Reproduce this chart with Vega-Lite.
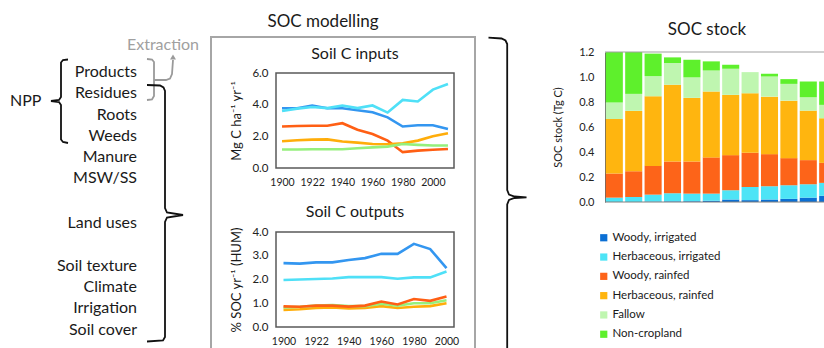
{
"$schema": "https://vega.github.io/schema/vega-lite/v6.json",
"padding": 0,
"spacing": 0,
"config": {"view": {"stroke": null}, "font": "Lato", "axis": {"labelFont": "Lato", "titleFont": "Lato"}, "legend": {"labelFont": "Lato"}, "title": {"font": "Lato"}},
"resolve": {"scale": {"color": "independent"}, "legend": {"color": "independent"}},
"datasets": {
"wordsL": [
{"label":"Products","x":137,"y":72},{"label":"Residues","x":137,"y":93},{"label":"Roots","x":137,"y":115},{"label":"Weeds","x":137,"y":136},{"label":"Manure","x":137,"y":157},{"label":"MSW/SS","x":137,"y":178},{"label":"Land uses","x":137,"y":223},{"label":"Soil texture","x":137,"y":266},{"label":"Climate","x":137,"y":287},{"label":"Irrigation","x":137,"y":308},{"label":"Soil cover","x":137,"y":330}],
"nppL": [{"label":"NPP","x":10,"y":101}],
"extractL": [{"label":"Extraction","x":163,"y":45}],
"blackL": [
{"id":"npp","seq":1,"x":68,"y":59.5},{"id":"npp","seq":2,"x":63,"y":60},{"id":"npp","seq":3,"x":61,"y":62.5},{"id":"npp","seq":4,"x":61,"y":97},{"id":"npp","seq":5,"x":59,"y":100},{"id":"npp","seq":6,"x":51,"y":101},{"id":"npp","seq":7,"x":59,"y":102},{"id":"npp","seq":8,"x":61,"y":105},{"id":"npp","seq":9,"x":61,"y":139.5},{"id":"npp","seq":10,"x":63,"y":142},{"id":"npp","seq":11,"x":68,"y":143},
{"id":"res","seq":1,"x":147,"y":85},{"id":"res","seq":2,"x":160,"y":85.5},{"id":"res","seq":3,"x":163.5,"y":87.5},{"id":"res","seq":4,"x":165,"y":91},{"id":"res","seq":5,"x":165,"y":208},{"id":"res","seq":6,"x":167,"y":212.5},{"id":"res","seq":7,"x":183,"y":215},{"id":"res","seq":8,"x":167,"y":217.5},{"id":"res","seq":9,"x":165,"y":222},{"id":"res","seq":10,"x":165,"y":337},{"id":"res","seq":11,"x":163,"y":340.5},{"id":"res","seq":12,"x":147,"y":341.5}],
"grayL": [
{"id":"gb","seq":1,"x":147,"y":59},{"id":"gb","seq":2,"x":152,"y":59.5},{"id":"gb","seq":3,"x":154,"y":62},{"id":"gb","seq":4,"x":154,"y":96},{"id":"gb","seq":5,"x":152,"y":99.5},{"id":"gb","seq":6,"x":147,"y":100},
{"id":"arr","seq":1,"x":154,"y":80},{"id":"arr","seq":2,"x":166,"y":80},{"id":"arr","seq":3,"x":170,"y":78.5},{"id":"arr","seq":4,"x":172,"y":74},{"id":"arr","seq":5,"x":173,"y":60}],
"arrowHead": [{"x":173,"y":57}],
"boxH": [{"seq":1,"x":-65,"y":348},{"seq":2,"x":-65,"y":37},{"seq":3,"x":199,"y":37},{"seq":4,"x":199,"y":348}],
"bigB": [{"seq":1,"x":9.5,"y":37.7},{"seq":2,"x":22.5,"y":38.5},{"seq":3,"x":26.5,"y":40.5},{"seq":4,"x":28.2,"y":44},{"seq":5,"x":28.2,"y":190},{"seq":6,"x":30,"y":194.5},{"seq":7,"x":35.5,"y":196.5},{"seq":8,"x":47.5,"y":197.3},{"seq":9,"x":35.5,"y":198},{"seq":10,"x":30,"y":200},{"seq":11,"x":28.2,"y":204.5},{"seq":12,"x":28.2,"y":348}],
"inputs": [
{"year":1900,"use":"Woody, irrigated","value":3.77},{"year":1910,"use":"Woody, irrigated","value":3.77},{"year":1922,"use":"Woody, irrigated","value":3.95},{"year":1933,"use":"Woody, irrigated","value":3.77},{"year":1940,"use":"Woody, irrigated","value":3.77},{"year":1950,"use":"Woody, irrigated","value":3.65},{"year":1960,"use":"Woody, irrigated","value":3.52},{"year":1970,"use":"Woody, irrigated","value":3.2},{"year":1980,"use":"Woody, irrigated","value":2.62},{"year":1990,"use":"Woody, irrigated","value":2.7},{"year":2000,"use":"Woody, irrigated","value":2.7},{"year":2008,"use":"Woody, irrigated","value":2.46},
{"year":1900,"use":"Herbaceous, irrigated","value":3.6},{"year":1910,"use":"Herbaceous, irrigated","value":3.75},{"year":1922,"use":"Herbaceous, irrigated","value":3.85},{"year":1933,"use":"Herbaceous, irrigated","value":3.78},{"year":1940,"use":"Herbaceous, irrigated","value":3.95},{"year":1950,"use":"Herbaceous, irrigated","value":3.78},{"year":1960,"use":"Herbaceous, irrigated","value":3.95},{"year":1970,"use":"Herbaceous, irrigated","value":3.5},{"year":1980,"use":"Herbaceous, irrigated","value":4.3},{"year":1990,"use":"Herbaceous, irrigated","value":4.2},{"year":2000,"use":"Herbaceous, irrigated","value":4.95},{"year":2008,"use":"Herbaceous, irrigated","value":5.3},
{"year":1900,"use":"Woody, rainfed","value":2.62},{"year":1910,"use":"Woody, rainfed","value":2.65},{"year":1922,"use":"Woody, rainfed","value":2.67},{"year":1933,"use":"Woody, rainfed","value":2.67},{"year":1940,"use":"Woody, rainfed","value":2.83},{"year":1950,"use":"Woody, rainfed","value":2.42},{"year":1960,"use":"Woody, rainfed","value":2.15},{"year":1970,"use":"Woody, rainfed","value":1.73},{"year":1980,"use":"Woody, rainfed","value":1.0},{"year":1990,"use":"Woody, rainfed","value":1.1},{"year":2000,"use":"Woody, rainfed","value":1.15},{"year":2008,"use":"Woody, rainfed","value":1.2},
{"year":1900,"use":"Herbaceous, rainfed","value":1.69},{"year":1910,"use":"Herbaceous, rainfed","value":1.75},{"year":1922,"use":"Herbaceous, rainfed","value":1.79},{"year":1933,"use":"Herbaceous, rainfed","value":1.81},{"year":1940,"use":"Herbaceous, rainfed","value":1.67},{"year":1950,"use":"Herbaceous, rainfed","value":1.6},{"year":1960,"use":"Herbaceous, rainfed","value":1.52},{"year":1970,"use":"Herbaceous, rainfed","value":1.5},{"year":1980,"use":"Herbaceous, rainfed","value":1.56},{"year":1990,"use":"Herbaceous, rainfed","value":1.73},{"year":2000,"use":"Herbaceous, rainfed","value":2.0},{"year":2008,"use":"Herbaceous, rainfed","value":2.2},
{"year":1900,"use":"Fallow","value":1.17},{"year":1910,"use":"Fallow","value":1.17},{"year":1922,"use":"Fallow","value":1.18},{"year":1933,"use":"Fallow","value":1.18},{"year":1940,"use":"Fallow","value":1.18},{"year":1950,"use":"Fallow","value":1.25},{"year":1960,"use":"Fallow","value":1.3},{"year":1970,"use":"Fallow","value":1.35},{"year":1980,"use":"Fallow","value":1.52},{"year":1990,"use":"Fallow","value":1.46},{"year":2000,"use":"Fallow","value":1.42},{"year":2008,"use":"Fallow","value":1.42}],
"outputs": [
{"year":1900,"use":"Woody, irrigated","value":2.69},{"year":1910,"use":"Woody, irrigated","value":2.67},{"year":1922,"use":"Woody, irrigated","value":2.72},{"year":1933,"use":"Woody, irrigated","value":2.72},{"year":1940,"use":"Woody, irrigated","value":2.82},{"year":1950,"use":"Woody, irrigated","value":2.9},{"year":1960,"use":"Woody, irrigated","value":3.08},{"year":1970,"use":"Woody, irrigated","value":3.08},{"year":1980,"use":"Woody, irrigated","value":3.5},{"year":1990,"use":"Woody, irrigated","value":3.28},{"year":2000,"use":"Woody, irrigated","value":2.48},
{"year":1900,"use":"Herbaceous, irrigated","value":1.98},{"year":1910,"use":"Herbaceous, irrigated","value":2.0},{"year":1922,"use":"Herbaceous, irrigated","value":2.02},{"year":1933,"use":"Herbaceous, irrigated","value":2.04},{"year":1940,"use":"Herbaceous, irrigated","value":2.1},{"year":1950,"use":"Herbaceous, irrigated","value":2.1},{"year":1960,"use":"Herbaceous, irrigated","value":2.1},{"year":1970,"use":"Herbaceous, irrigated","value":2.03},{"year":1980,"use":"Herbaceous, irrigated","value":2.09},{"year":1990,"use":"Herbaceous, irrigated","value":2.09},{"year":2000,"use":"Herbaceous, irrigated","value":2.34},
{"year":1900,"use":"Herbaceous, rainfed","value":0.72},{"year":1910,"use":"Herbaceous, rainfed","value":0.75},{"year":1922,"use":"Herbaceous, rainfed","value":0.8},{"year":1933,"use":"Herbaceous, rainfed","value":0.82},{"year":1940,"use":"Herbaceous, rainfed","value":0.78},{"year":1950,"use":"Herbaceous, rainfed","value":0.8},{"year":1960,"use":"Herbaceous, rainfed","value":0.88},{"year":1970,"use":"Herbaceous, rainfed","value":0.8},{"year":1980,"use":"Herbaceous, rainfed","value":0.85},{"year":1990,"use":"Herbaceous, rainfed","value":0.88},{"year":2000,"use":"Herbaceous, rainfed","value":1.0},
{"year":1900,"use":"Fallow","value":0.82},{"year":1910,"use":"Fallow","value":0.85},{"year":1922,"use":"Fallow","value":0.9},{"year":1933,"use":"Fallow","value":0.92},{"year":1940,"use":"Fallow","value":0.88},{"year":1950,"use":"Fallow","value":0.88},{"year":1960,"use":"Fallow","value":0.98},{"year":1970,"use":"Fallow","value":0.9},{"year":1980,"use":"Fallow","value":1.0},{"year":1990,"use":"Fallow","value":1.0},{"year":2000,"use":"Fallow","value":1.13},
{"year":1900,"use":"Woody, rainfed","value":0.87},{"year":1910,"use":"Woody, rainfed","value":0.85},{"year":1922,"use":"Woody, rainfed","value":0.9},{"year":1933,"use":"Woody, rainfed","value":0.9},{"year":1940,"use":"Woody, rainfed","value":0.86},{"year":1950,"use":"Woody, rainfed","value":0.9},{"year":1960,"use":"Woody, rainfed","value":1.07},{"year":1970,"use":"Woody, rainfed","value":0.95},{"year":1980,"use":"Woody, rainfed","value":1.18},{"year":1990,"use":"Woody, rainfed","value":1.1},{"year":2000,"use":"Woody, rainfed","value":1.28}],
"stock": [
{"year":1900,"use":"Woody, irrigated","k":1,"value":0},{"year":1910,"use":"Woody, irrigated","k":1,"value":0},{"year":1922,"use":"Woody, irrigated","k":1,"value":0.003},{"year":1933,"use":"Woody, irrigated","k":1,"value":0.005},{"year":1940,"use":"Woody, irrigated","k":1,"value":0.006},{"year":1950,"use":"Woody, irrigated","k":1,"value":0.01},{"year":1960,"use":"Woody, irrigated","k":1,"value":0.02},{"year":1970,"use":"Woody, irrigated","k":1,"value":0.015},{"year":1980,"use":"Woody, irrigated","k":1,"value":0.02},{"year":1990,"use":"Woody, irrigated","k":1,"value":0.025},{"year":2000,"use":"Woody, irrigated","k":1,"value":0.035},{"year":2008,"use":"Woody, irrigated","k":1,"value":0.05},
{"year":1900,"use":"Herbaceous, irrigated","k":2,"value":0.035},{"year":1910,"use":"Herbaceous, irrigated","k":2,"value":0.04},{"year":1922,"use":"Herbaceous, irrigated","k":2,"value":0.056},{"year":1933,"use":"Herbaceous, irrigated","k":2,"value":0.065},{"year":1940,"use":"Herbaceous, irrigated","k":2,"value":0.061},{"year":1950,"use":"Herbaceous, irrigated","k":2,"value":0.057},{"year":1960,"use":"Herbaceous, irrigated","k":2,"value":0.074},{"year":1970,"use":"Herbaceous, irrigated","k":2,"value":0.105},{"year":1980,"use":"Herbaceous, irrigated","k":2,"value":0.106},{"year":1990,"use":"Herbaceous, irrigated","k":2,"value":0.109},{"year":2000,"use":"Herbaceous, irrigated","k":2,"value":0.107},{"year":2008,"use":"Herbaceous, irrigated","k":2,"value":0.103},
{"year":1900,"use":"Woody, rainfed","k":3,"value":0.193},{"year":1910,"use":"Woody, rainfed","k":3,"value":0.206},{"year":1922,"use":"Woody, rainfed","k":3,"value":0.23},{"year":1933,"use":"Woody, rainfed","k":3,"value":0.254},{"year":1940,"use":"Woody, rainfed","k":3,"value":0.257},{"year":1950,"use":"Woody, rainfed","k":3,"value":0.29},{"year":1960,"use":"Woody, rainfed","k":3,"value":0.281},{"year":1970,"use":"Woody, rainfed","k":3,"value":0.274},{"year":1980,"use":"Woody, rainfed","k":3,"value":0.257},{"year":1990,"use":"Woody, rainfed","k":3,"value":0.217},{"year":2000,"use":"Woody, rainfed","k":3,"value":0.193},{"year":2008,"use":"Woody, rainfed","k":3,"value":0.16},
{"year":1900,"use":"Herbaceous, rainfed","k":4,"value":0.436},{"year":1910,"use":"Herbaceous, rainfed","k":4,"value":0.483},{"year":1922,"use":"Herbaceous, rainfed","k":4,"value":0.557},{"year":1933,"use":"Herbaceous, rainfed","k":4,"value":0.614},{"year":1940,"use":"Herbaceous, rainfed","k":4,"value":0.509},{"year":1950,"use":"Herbaceous, rainfed","k":4,"value":0.527},{"year":1960,"use":"Herbaceous, rainfed","k":4,"value":0.482},{"year":1970,"use":"Herbaceous, rainfed","k":4,"value":0.476},{"year":1980,"use":"Herbaceous, rainfed","k":4,"value":0.46},{"year":1990,"use":"Herbaceous, rainfed","k":4,"value":0.46},{"year":2000,"use":"Herbaceous, rainfed","k":4,"value":0.396},{"year":2008,"use":"Herbaceous, rainfed","k":4,"value":0.357},
{"year":1900,"use":"Fallow","k":5,"value":0.132},{"year":1910,"use":"Fallow","k":5,"value":0.136},{"year":1922,"use":"Fallow","k":5,"value":0.161},{"year":1933,"use":"Fallow","k":5,"value":0.174},{"year":1940,"use":"Fallow","k":5,"value":0.164},{"year":1950,"use":"Fallow","k":5,"value":0.168},{"year":1960,"use":"Fallow","k":5,"value":0.209},{"year":1970,"use":"Fallow","k":5,"value":0.169},{"year":1980,"use":"Fallow","k":5,"value":0.161},{"year":1990,"use":"Fallow","k":5,"value":0.134},{"year":2000,"use":"Fallow","k":5,"value":0.107},{"year":2008,"use":"Fallow","k":5,"value":0.107},
{"year":1900,"use":"Non-cropland","k":6,"value":0.404},{"year":1910,"use":"Non-cropland","k":6,"value":0.335},{"year":1922,"use":"Non-cropland","k":6,"value":0.18},{"year":1933,"use":"Non-cropland","k":6,"value":0.045},{"year":1940,"use":"Non-cropland","k":6,"value":0.141},{"year":1950,"use":"Non-cropland","k":6,"value":0.073},{"year":1960,"use":"Non-cropland","k":6,"value":0.032},{"year":1970,"use":"Non-cropland","k":6,"value":0},{"year":1980,"use":"Non-cropland","k":6,"value":0.022},{"year":1990,"use":"Non-cropland","k":6,"value":0.038},{"year":2000,"use":"Non-cropland","k":6,"value":0.126},{"year":2008,"use":"Non-cropland","k":6,"value":0.187}]
},
"hconcat": [
{
 "width": 207, "height": 348,
 "layer": [
  {"data": {"name": "grayL"}, "mark": {"type": "line", "stroke": "#9a9a9a", "strokeWidth": 1.8},
   "encoding": {"x": {"field": "x", "type": "quantitative", "scale": {"domain": [0, 207], "nice": false, "zero": false}, "axis": null},
                "y": {"field": "y", "type": "quantitative", "scale": {"domain": [0, 348], "nice": false, "zero": false, "reverse": true}, "axis": null},
                "detail": {"field": "id"}, "order": {"field": "seq"}}},
  {"data": {"name": "arrowHead"}, "mark": {"type": "point", "shape": "triangle-up", "filled": true, "color": "#9a9a9a", "size": 35, "opacity": 1},
   "encoding": {"x": {"field": "x", "type": "quantitative"}, "y": {"field": "y", "type": "quantitative"}}},
  {"data": {"name": "blackL"}, "mark": {"type": "line", "stroke": "#111111", "strokeWidth": 1.8},
   "encoding": {"x": {"field": "x", "type": "quantitative"}, "y": {"field": "y", "type": "quantitative"}, "detail": {"field": "id"}, "order": {"field": "seq"}}},
  {"data": {"name": "wordsL"}, "mark": {"type": "text", "align": "right", "baseline": "middle", "fontSize": 16, "color": "#1a1a1a"},
   "encoding": {"x": {"field": "x", "type": "quantitative"}, "y": {"field": "y", "type": "quantitative"}, "text": {"field": "label"}}},
  {"data": {"name": "nppL"}, "mark": {"type": "text", "align": "left", "baseline": "middle", "fontSize": 16, "color": "#1a1a1a"},
   "encoding": {"x": {"field": "x", "type": "quantitative"}, "y": {"field": "y", "type": "quantitative"}, "text": {"field": "label"}}},
  {"data": {"name": "extractL"}, "mark": {"type": "text", "align": "center", "baseline": "middle", "fontSize": 16, "color": "#a0a0a0"},
   "encoding": {"x": {"field": "x", "type": "quantitative"}, "y": {"field": "y", "type": "quantitative"}, "text": {"field": "label"}}}
 ]
},
{
 "bounds": "flush", "spacing": 36,
 "vconcat": [
  {"width": 200, "height": 37,
   "layer": [
    {"data": {"name": "boxH"}, "mark": {"type": "line", "stroke": "#a6a6a6", "strokeWidth": 2},
     "encoding": {"x": {"field": "x", "type": "quantitative", "scale": {"domain": [0, 200], "nice": false, "zero": false}, "axis": null},
                  "y": {"field": "y", "type": "quantitative", "scale": {"domain": [0, 37], "nice": false, "zero": false, "reverse": true}, "axis": null},
                  "order": {"field": "seq"}}},
    {"data": {"values": [{"label": "SOC modelling"}]}, "mark": {"type": "text", "fontSize": 17, "align": "center", "baseline": "middle", "color": "#1a1a1a"},
     "encoding": {"text": {"field": "label"}, "x": {"datum": 47, "type": "quantitative"}, "y": {"datum": 22, "type": "quantitative"}}}
   ]},
  {"bounds": "flush", "spacing": 64,
   "vconcat": [
    {"width": 178, "height": 95, "data": {"name": "inputs"},
     "view": {"stroke": "#595959", "strokeWidth": 1.5},
     "title": {"text": "Soil C inputs", "fontSize": 16, "fontWeight": "normal", "color": "#1a1a1a", "offset": 5, "dx": -10, "anchor": "middle"},
     "mark": {"type": "line", "strokeWidth": 2.6},
     "encoding": {
      "x": {"field": "year", "type": "ordinal", "scale": {"type": "point", "padding": 0.4},
            "axis": {"values": [1900, 1922, 1940, 1960, 1980, 2000], "labelAngle": 0, "ticks": false, "domain": false, "grid": false, "title": null, "labelPadding": 9, "labelFontSize": 10.5, "labelColor": "#222"}},
      "y": {"field": "value", "type": "quantitative", "scale": {"domain": [0, 6], "nice": false},
            "axis": {"values": [0, 2, 4, 6], "format": ".1f", "ticks": false, "domain": false, "grid": false, "labelOverlap": false, "title": "Mg C ha⁻¹ yr⁻¹", "titleFontSize": 13, "titleFontWeight": "normal", "titleColor": "#1a1a1a", "labelFontSize": 11.5, "labelColor": "#222", "labelPadding": 8, "titlePadding": 8}},
      "color": {"field": "use", "type": "nominal",
                "scale": {"domain": ["Woody, irrigated", "Herbaceous, irrigated", "Woody, rainfed", "Herbaceous, rainfed", "Fallow"], "range": ["#3396f0", "#4fe0f7", "#ff5f14", "#ffad0a", "#95f07c"]},
                "legend": null}
     }},
    {"width": 178, "height": 95, "data": {"name": "outputs"},
     "view": {"stroke": "#595959", "strokeWidth": 1.5},
     "title": {"text": "Soil C outputs", "fontSize": 16, "fontWeight": "normal", "color": "#1a1a1a", "offset": 6, "dx": -10, "anchor": "middle"},
     "mark": {"type": "line", "strokeWidth": 2.6},
     "encoding": {
      "x": {"field": "year", "type": "ordinal", "scale": {"type": "point", "padding": 0.46},
            "axis": {"values": [1900, 1922, 1940, 1960, 1980, 2000], "labelAngle": 0, "ticks": false, "domain": false, "grid": false, "title": null, "labelPadding": 9, "labelFontSize": 10.5, "labelColor": "#222"}},
      "y": {"field": "value", "type": "quantitative", "scale": {"domain": [0, 4], "nice": false},
            "axis": {"values": [0, 1, 2, 3, 4], "format": ".1f", "ticks": false, "domain": false, "grid": false, "labelOverlap": false, "title": "% SOC yr⁻¹ (HUM)", "titleFontSize": 13, "titleFontWeight": "normal", "titleColor": "#1a1a1a", "labelFontSize": 11.5, "labelColor": "#222", "labelPadding": 8, "titlePadding": 8}},
      "color": {"field": "use", "type": "nominal",
                "scale": {"domain": ["Woody, irrigated", "Herbaceous, irrigated", "Woody, rainfed", "Herbaceous, rainfed", "Fallow"], "range": ["#3396f0", "#4fe0f7", "#ff5f14", "#ffad0a", "#95f07c"]},
                "legend": null}
     }}
   ]}
 ]
},
{
 "width": 73, "height": 348,
 "data": {"name": "bigB"},
 "mark": {"type": "line", "stroke": "#111111", "strokeWidth": 1.8},
 "encoding": {"x": {"field": "x", "type": "quantitative", "scale": {"domain": [0, 73], "nice": false, "zero": false}, "axis": null},
              "y": {"field": "y", "type": "quantitative", "scale": {"domain": [0, 348], "nice": false, "zero": false, "reverse": true}, "axis": null},
              "order": {"field": "seq"}}
},
{
 "bounds": "flush", "spacing": 0,
 "resolve": {"legend": {"color": "independent"}},
 "vconcat": [
  {"width": 222, "height": 52, "data": {"values": [{"label": "SOC stock"}]},
   "mark": {"type": "text", "fontSize": 17, "align": "center", "baseline": "middle", "color": "#1a1a1a"},
   "encoding": {"text": {"field": "label"},
                "x": {"datum": 102, "type": "quantitative", "scale": {"domain": [0, 222], "nice": false}, "axis": null},
                "y": {"datum": 30, "type": "quantitative", "scale": {"domain": [0, 52], "nice": false, "reverse": true}, "axis": null}}},
  {"width": 222, "height": 150,
   "layer": [
    {"data": {"name": "stock"}, "mark": {"type": "bar", "clip": true},
     "encoding": {
      "x": {"field": "year", "type": "ordinal", "scale": {"type": "band", "range": [0, 232], "paddingInner": 0.12, "paddingOuter": 0.04}, "axis": null},
      "y": {"field": "value", "type": "quantitative", "stack": "zero", "scale": {"domain": [0, 1.2], "nice": false},
            "axis": {"values": [0, 0.2, 0.4, 0.6, 0.8, 1.0, 1.2], "tickCount": 7, "format": ".1f", "ticks": false, "domain": true, "domainColor": "#666", "grid": false, "labelOverlap": false, "title": "SOC stock (Tg C)", "titleFontSize": 11, "titleFontWeight": "normal", "titleColor": "#1a1a1a", "labelFontSize": 11, "labelColor": "#222", "labelPadding": 11, "titlePadding": 15}},
      "color": {"field": "use", "type": "nominal",
                "scale": {"domain": ["Woody, irrigated", "Herbaceous, irrigated", "Woody, rainfed", "Herbaceous, rainfed", "Fallow", "Non-cropland"], "range": ["#0b6fd4", "#4de4f6", "#fd6419", "#ffb50f", "#bff6b0", "#5ef02c"]},
                "legend": {"orient": "none", "legendX": -7, "legendY": 180, "direction": "vertical", "title": null, "symbolType": "square", "symbolSize": 52, "symbolStrokeWidth": 0, "labelFontSize": 11.5, "labelColor": "#1a1a1a", "rowPadding": 6.3, "padding": 0, "labelOffset": 3}},
      "order": {"field": "k", "type": "quantitative"}
     }},
    {"data": {"values": [{}]}, "mark": {"type": "rule", "stroke": "#a0a0a0", "strokeWidth": 1.2},
     "encoding": {"y": {"datum": 1.2, "type": "quantitative",
                        "axis": {"values": [0, 0.2, 0.4, 0.6, 0.8, 1.0, 1.2], "tickCount": 7, "format": ".1f", "ticks": false, "domain": true, "domainColor": "#666", "grid": false, "labelOverlap": false, "title": "SOC stock (Tg C)", "titleFontSize": 11, "titleFontWeight": "normal", "titleColor": "#1a1a1a", "labelFontSize": 11, "labelColor": "#222", "labelPadding": 11, "titlePadding": 15}}}},
    {"data": {"values": [{}]}, "mark": {"type": "rule", "stroke": "#808080", "strokeWidth": 1},
     "encoding": {"y": {"datum": 0, "type": "quantitative",
                        "axis": {"values": [0, 0.2, 0.4, 0.6, 0.8, 1.0, 1.2], "tickCount": 7, "format": ".1f", "ticks": false, "domain": true, "domainColor": "#666", "grid": false, "labelOverlap": false, "title": "SOC stock (Tg C)", "titleFontSize": 11, "titleFontWeight": "normal", "titleColor": "#1a1a1a", "labelFontSize": 11, "labelColor": "#222", "labelPadding": 11, "titlePadding": 15}}}}
   ]}
 ]
}
]
}
